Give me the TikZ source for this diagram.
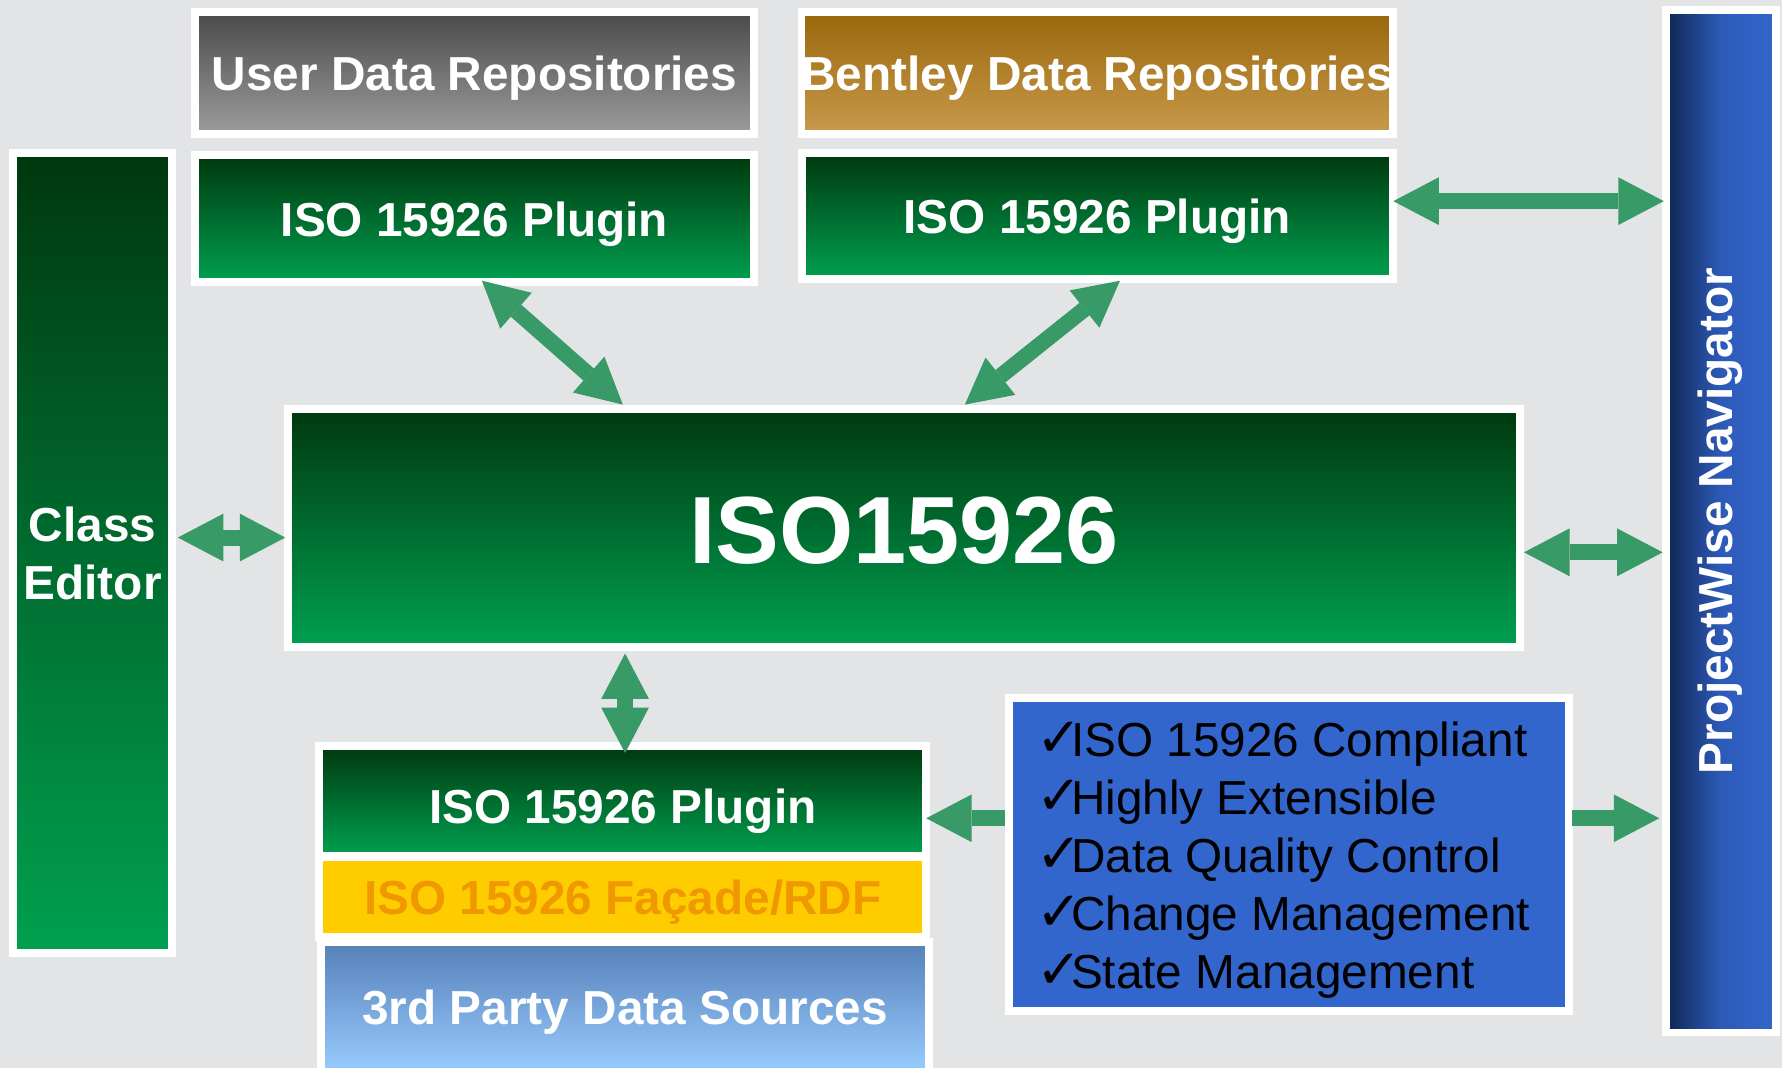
\documentclass[tikz,border=0pt]{standalone}
\usepackage{fontspec}
\setmainfont{Liberation Sans}
\newfontfamily\dejavufont{DejaVu Sans}
\usetikzlibrary{arrows.meta,calc}
\definecolor{bg}{HTML}{E3E4E6}
\definecolor{gtop}{HTML}{00380E}
\definecolor{gbot}{HTML}{00A050}
\definecolor{graytop}{HTML}{4A4A4A}
\definecolor{graybot}{HTML}{9C9C9C}
\definecolor{btop}{HTML}{99660A}
\definecolor{bbot}{HTML}{C89A4C}
\definecolor{pwl}{HTML}{0F2552}
\definecolor{pwm}{HTML}{2D5AB8}
\definecolor{pwr}{HTML}{3366CC}
\definecolor{tptop}{HTML}{5580B8}
\definecolor{tpbot}{HTML}{99CCFF}
\definecolor{facfill}{HTML}{FFCC00}
\definecolor{factext}{HTML}{F09800}
\definecolor{featfill}{HTML}{3366CC}
\definecolor{ag}{HTML}{389A66}
\newcommand\ckmark{\makebox[15pt][l]{\dejavufont\fontsize{24pt}{25pt}\selectfont ✓}}
\tikzset{
  box/.style 2 args={draw=white, line width=3.5pt, inner sep=0pt, outer sep=0pt,
    minimum width=#1*0.5pt, minimum height=#2*0.5pt, text=white, text depth=0pt,
    font=\bfseries\fontsize{21pt}{25.5pt}\selectfont, align=center},
  greenbox/.style={top color=gtop, bottom color=gbot},
  arr/.style={draw=ag, line width=7pt,
    {Triangle[length=20pt,width=21pt,line width=0pt]}-{Triangle[length=20pt,width=21pt,line width=0pt]}},
  sarr/.style={draw=ag, line width=7pt, -{Triangle[length=20pt,width=21pt,line width=0pt]}}
}
\begin{document}
\begin{tikzpicture}[x=0.5pt,y=-0.5pt]
\useasboundingbox (0,0) rectangle (1568,940);
\clip (0,0) rectangle (1568,940);
\fill[bg] (0,0) rectangle (1568,940);

\node[box={492}{107}, top color=graytop, bottom color=graybot] (user) at (417.5,64) {User Data Repositories};
\node[box={520}{107}, top color=btop, bottom color=bbot] (bentley) at (965.5,64) {Bentley Data Repositories};
\node[box={492}{112}, greenbox] (plugL) at (417.5,192.5) {ISO 15926 Plugin};
\node[box={520}{111}, greenbox] (plugR) at (965.5,190) {ISO 15926 Plugin};
\node[box={140}{704}, greenbox] (class) at (81.5,486.5) {Class\\Editor};
\node[box={1084}{210}, greenbox, font=\bfseries\fontsize{42pt}{48pt}\selectfont] (iso) at (795.5,464.5) {\raisebox{-2pt}{ISO15926}};
\node[box={97}{900}, left color=pwl, right color=pwr, middle color=pwm] (pw) at (1514,458.5) {};
\node[text=white, font=\bfseries\fontsize{21pt}{25.5pt}\selectfont, rotate=90, inner sep=0pt] (pwlabel) at (pw.center) {ProjectWise Navigator};
\node[box={535}{115}, top color=tptop, bottom color=tpbot] (third) at (550,886) {3rd Party Data Sources};
\node[box={534}{70}, fill=facfill, text=factext] (facade) at (548,789.5) {ISO 15926 Façade/RDF};
\node[box={534}{97}, greenbox] (plugB) at (548,704.5) {\raisebox{-4.5pt}{ISO 15926 Plugin}};
\node[box={493}{275}, fill=featfill] (feat) at (1134,752) {};
\node[anchor=west, align=left, text=black, inner sep=0pt,
  font=\fontsize{21pt}{25.5pt}\selectfont] (featlist) at (912,757)
  {\ckmark ISO 15926 Compliant\\
   \ckmark Highly Extensible\\
   \ckmark Data Quality Control\\
   \ckmark Change Management\\
   \ckmark State Management};

\draw[arr] ($(plugL.south)+(6.5,-1.5)$) -- ($(iso.north)+(-247.5,-3.5)$);
\draw[arr] ($(plugR.south)+(20,1.5)$) -- ($(iso.north)+(53.5,-3.5)$);
\draw[arr] ($(plugR.east)+(0.5,-13)$) -- ($(pw.west)+(-1.5,-281.5)$);
\draw[arr] ($(class.east)+(5,-13.5)$) -- ($(iso.west)+(-2.5,8.5)$);
\draw[arr] ($(iso.east)+(3.5,21.5)$) -- ($(pw.west)+(-2.5,27.5)$);
\draw[arr] ($(iso.south)+(-245.5,5.5)$) -- ($(plugB.north)+(2,6.6)$);
\draw[sarr] ($(feat.west)+(-3.5,-32)$) -- ($(plugB.east)+(0,15.5)$);
\draw[sarr] ($(feat.east)+(2.5,-32)$) -- ($(pw.west)+(-5.5,261.5)$);
\end{tikzpicture}
\end{document}
